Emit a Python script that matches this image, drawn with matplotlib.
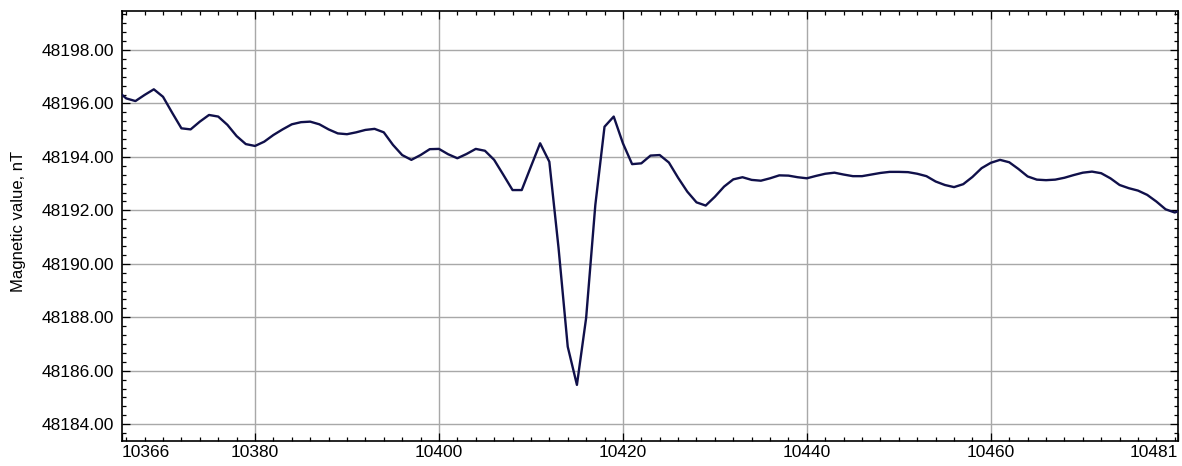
import matplotlib
matplotlib.use("Agg")
import matplotlib.pyplot as plt
from matplotlib.ticker import MultipleLocator, AutoMinorLocator, FixedLocator, FuncFormatter

plt.rcParams['font.family'] = ['Liberation Sans', 'DejaVu Sans']

x_start = 10365
magnetic = [
    48196.48, 48196.19, 48196.09, 48196.32, 48196.53, 48196.25, 48195.65, 48195.07,
    48195.03, 48195.32, 48195.57, 48195.51, 48195.20, 48194.78, 48194.48, 48194.41,
    48194.57, 48194.82, 48195.03, 48195.22, 48195.30, 48195.32, 48195.22, 48195.03,
    48194.88, 48194.85, 48194.92, 48195.01, 48195.05, 48194.92, 48194.45, 48194.07,
    48193.89, 48194.07, 48194.29, 48194.30, 48194.10, 48193.95, 48194.11, 48194.30,
    48194.23, 48193.89, 48193.33, 48192.76, 48192.76, 48193.64, 48194.51, 48193.82,
    48190.60, 48186.90, 48185.47, 48187.97, 48192.20, 48195.13, 48195.51, 48194.51,
    48193.73, 48193.76, 48194.05, 48194.07, 48193.79, 48193.22, 48192.70, 48192.30,
    48192.18, 48192.51, 48192.89, 48193.16, 48193.24, 48193.14, 48193.11, 48193.20,
    48193.31, 48193.30, 48193.24, 48193.20, 48193.29, 48193.37, 48193.41, 48193.34,
    48193.28, 48193.28, 48193.34, 48193.40, 48193.44, 48193.44, 48193.43, 48193.37,
    48193.28, 48193.08, 48192.95, 48192.87, 48192.98, 48193.25, 48193.58, 48193.78,
    48193.89, 48193.80, 48193.55, 48193.27, 48193.15, 48193.13, 48193.15, 48193.22,
    48193.32, 48193.41, 48193.45, 48193.39, 48193.20, 48192.95, 48192.83, 48192.74,
    48192.58, 48192.33, 48192.04, 48191.92, 48192.05,
]
positions = [x_start + i for i in range(len(magnetic))]

x_limits = (10365.54, 10480.35)
y_limits = (48183.37, 48199.46)
x_major = [10380, 10400, 10420, 10440, 10460]
x_edge_labels = ["10366", "10481"]
y_label = "Magnetic value, nT"

W, H = 1182, 466
fig = plt.figure(figsize=(W / 100, H / 100), dpi=100)
ax = fig.add_axes([122 / W, 1 - 441 / H, (1178 - 122) / W, (441 - 11) / H])

ax.plot(positions, magnetic, color='#10104a', lw=1.7, zorder=3)

ax.set_xlim(*x_limits)
ax.set_ylim(*y_limits)

ticks = [x_limits[0]] + x_major + [x_limits[1]]
labels = [x_edge_labels[0]] + [str(v) for v in x_major] + [x_edge_labels[1]]
ax.xaxis.set_major_locator(FixedLocator(ticks))
ax.set_xticklabels(labels)
ax.xaxis.set_minor_locator(MultipleLocator(2))
ax.yaxis.set_major_locator(MultipleLocator(2))
ax.yaxis.set_minor_locator(AutoMinorLocator(6))
ax.yaxis.set_major_formatter(FuncFormatter(lambda v, p: f"{v:.2f}"))

xl = ax.get_xticklabels()
xl[0].set_ha('left')
xl[-1].set_ha('right')

ax.grid(True, which='major', color='#a8a8a8', lw=1.0, zorder=0)
ax.tick_params(which='both', direction='in', top=True, right=True, color='black', width=0.9)
ax.tick_params(which='major', length=6, labelsize=12.5)
ax.tick_params(axis='y', which='major', pad=6)
ax.tick_params(axis='x', which='major', pad=3)
ax.tick_params(which='minor', length=3)
gl = ax.get_xgridlines()
gl[0].set_visible(False)
gl[-1].set_visible(False)

for s in ax.spines.values():
    s.set_linewidth(1.2)
    s.set_color('black')

ax.set_ylabel(y_label, fontsize=12)
ax.yaxis.set_label_coords(-0.091, 0.51)

fig.savefig("out.png", dpi=100)
